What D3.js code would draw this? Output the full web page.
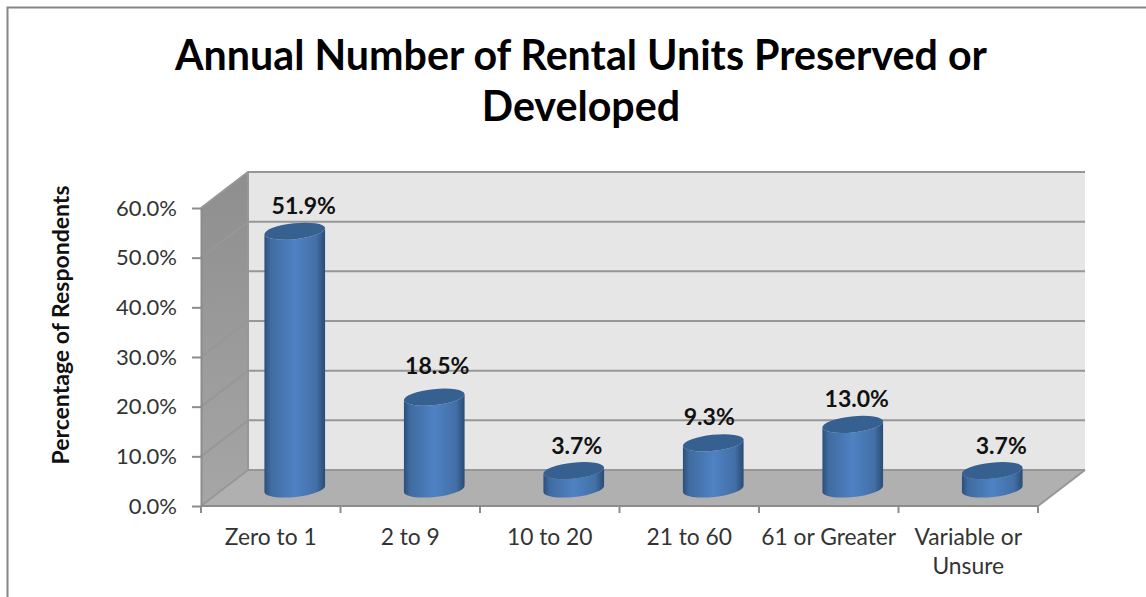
<!DOCTYPE html>
<html><head><meta charset="utf-8">
<script src="https://cdn.jsdelivr.net/npm/d3@7/dist/d3.min.js"></script>
<style>html,body{margin:0;padding:0;background:#fff}svg{display:block}text{font-family:Lato,Carlito,"Open Sans",sans-serif}</style>
</head><body><svg id="c" width="1146" height="597"></svg>
<script>
const titleLines = ["Annual Number of Rental Units Preserved or", "Developed"];
const yTitle = "Percentage of Respondents";
const categories = ["Zero to 1", "2 to 9", "10 to 20", "21 to 60", "61 or Greater", "Variable or|Unsure"];
const values = [51.9, 18.5, 3.7, 9.3, 13.0, 3.7];
const valueLabels = ["51.9%", "18.5%", "3.7%", "9.3%", "13.0%", "3.7%"];
const yTicks = [0, 10, 20, 30, 40, 50, 60];
const labelNudgeX = [9, 3, 3, -4, 4, 9];
const labelNudgeY = [1, -5, 1, 0, 1, 1];

const svg = d3.select("#c");
const depthX = 47, depthY = -36;
const x = d3.scaleBand().domain(categories).range([201, 1038]);
const y = d3.scaleLinear().domain([0, 60]).range([506, 208]);
const y0 = y(0), yT = y(60), xL = x.range()[0], xR = x.range()[1];

const defs = svg.append("defs");
const grad = defs.append("linearGradient").attr("id", "cyl");
[[0,"#2b4f7c"],[0.1,"#3f6b9f"],[0.5,"#4f82c4"],[0.86,"#426fa6"],[1,"#2a4b74"]].forEach(s =>
  grad.append("stop").attr("offset", s[0]).attr("stop-color", s[1]));
const side = defs.append("linearGradient").attr("id", "sideW").attr("x1",0).attr("x2",0).attr("y1",0).attr("y2",1);
[[0,"#8e8e8e"],[1,"#a6a6a6"]].forEach(s => side.append("stop").attr("offset", s[0]).attr("stop-color", s[1]));

// frame
svg.append("path").attr("d", "M7.5 597V7.5H1146").attr("fill","none").attr("stroke","#868686").attr("stroke-width",2);

// back wall, side wall, floor
svg.append("rect").attr("x", xL+depthX).attr("y", yT+depthY).attr("width", xR-xL).attr("height", y0-yT)
  .attr("fill", "#e6e6e6");
svg.append("path").attr("d", d3.line()([[xL,y0],[xL,yT],[xL+depthX,yT+depthY],[xL+depthX,y0+depthY]])+"Z").attr("fill","url(#sideW)");
svg.append("path").attr("d", d3.line()([[xL,y0],[xL+depthX,y0+depthY],[xR+depthX,y0+depthY],[xR,y0]])+"Z").attr("fill","#b0b0b0");

// gridlines
const gridColor = "#979797";
svg.append("g").selectAll("path").data(yTicks).join("path")
  .attr("d", v => d3.line()([[xL,y(v)],[xL+depthX,y(v)+depthY],[xR+depthX,y(v)+depthY]]))
  .attr("fill","none").attr("stroke",gridColor).attr("stroke-width",2);
svg.append("path").attr("d", `M${xL+depthX} ${yT+depthY}V${y0+depthY}`).attr("stroke",gridColor).attr("stroke-width",2);
svg.append("path").attr("d", `M${xR} ${y0}L${xR+depthX} ${y0+depthY}`).attr("stroke",gridColor).attr("stroke-width",2);

// axes
const gy = svg.append("g").attr("transform", `translate(${xL},0)`)
  .call(d3.axisLeft(y).tickValues(yTicks).tickSize(9).tickSizeOuter(0).tickPadding(15).tickFormat(d => d.toFixed(1)+"%"));
gy.selectAll("path,line").attr("stroke","#8c8c8c").attr("stroke-width",2);
gy.selectAll("text").attr("font-size",22).attr("fill","#333").style("font-family","Lato,Carlito,sans-serif");

const xEdges = categories.map(c => x(c)).concat(xR);
svg.append("path").attr("d", `M${xL} ${y0}H${xR}`).attr("stroke","#8c8c8c").attr("stroke-width",2);
svg.append("g").selectAll("line").data(xEdges).join("line")
  .attr("x1", d=>d).attr("x2", d=>d).attr("y1", y0).attr("y2", y0+7).attr("stroke","#8c8c8c").attr("stroke-width",2);
svg.append("g").selectAll("text").data(categories).join("text")
  .attr("text-anchor","middle").attr("font-size",22.8).attr("fill","#333")
  .each(function(c){
    d3.select(this).selectAll("tspan").data(c.split("|")).join("tspan")
      .attr("x", x(c)+x.bandwidth()/2).attr("y",(d,i)=>544.5+i*29.5).text(d=>d);
  });

// cylinders
const rx = 30.5, ry = 8, tilt = -6, baseLift = 17, shiftX = 24;
const g = svg.append("g").selectAll("g").data(values).join("g")
  .attr("transform",(d,i)=>`translate(${x(categories[i])+x.bandwidth()/2+shiftX},${y0-baseLift})`);
const dx = rx*Math.cos(tilt*Math.PI/180), dy = rx*Math.sin(tilt*Math.PI/180);
g.append("path").attr("d", d => {
  const h = y0 - y(d);
  return `M${-dx} ${-dy-h}L${-dx} ${-dy}A${rx} ${ry} ${tilt} 0 0 ${dx} ${dy}L${dx} ${dy-h}A${rx} ${ry} ${tilt} 0 1 ${-dx} ${-dy-h}Z`;
}).attr("fill","url(#cyl)");
g.append("ellipse").attr("cx",0).attr("cy",d=>-(y0-y(d))).attr("rx",rx).attr("ry",ry)
  .attr("transform",d=>`rotate(${tilt} 0 ${-(y0-y(d))})`).attr("fill","#35608f");

// value labels
svg.append("g").selectAll("text").data(values).join("text")
  .attr("x",(d,i)=>x(categories[i])+x.bandwidth()/2+shiftX+labelNudgeX[i])
  .attr("y",(d,i)=>y(d)-baseLift-18+labelNudgeY[i])
  .attr("text-anchor","middle").attr("font-size",23).attr("font-weight",700).attr("fill","#111")
  .text((d,i)=>valueLabels[i]);

// titles
svg.append("g").selectAll("text").data(titleLines).join("text")
  .attr("x",581).attr("y",(d,i)=>70+i*51).attr("text-anchor","middle")
  .attr("font-size",41.2).attr("font-weight",700).attr("fill","#000").text(d=>d);
svg.append("text").attr("transform","translate(69,325) rotate(-90)").attr("text-anchor","middle")
  .attr("font-size",23).attr("font-weight",700).attr("fill","#111").text(yTitle);
</script></body></html>
